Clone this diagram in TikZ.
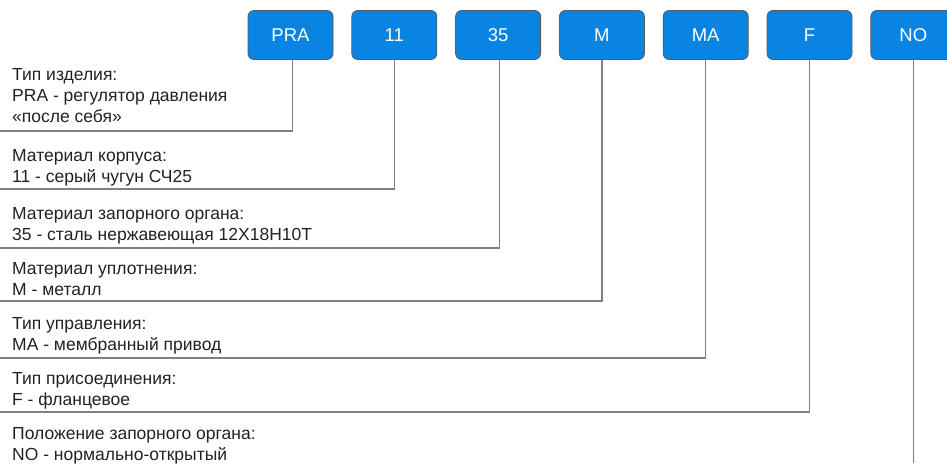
\documentclass[tikz,border=0pt]{standalone}
\usepackage{fontspec}
\setmainfont{Liberation Sans}
\usetikzlibrary{positioning}

\definecolor{codeblue}{RGB}{9,132,227}
\definecolor{framegray}{RGB}{90,90,90}
\definecolor{linegray}{RGB}{128,128,128}
\definecolor{textdark}{RGB}{34,34,34}

\begin{document}
\begin{tikzpicture}
			[x=1pt,y=-1pt,
			codebox/.style={draw=framegray,fill=codeblue,rounded corners=6pt,line width=0.8pt,
				minimum width=85pt,minimum height=49pt,text=white,font=\fontsize{18.5}{20}\selectfont},
			leader/.style={draw=linegray,line width=1.2pt},
			desc/.style={anchor=north west,inner sep=0pt,align=left,text=textdark,
				font=\fontsize{17.5}{21}\selectfont}]
			\useasboundingbox (0,0) rectangle (947,463);
			% code boxes
			\node[codebox] (pra) at (290.5,35) {PRA};
			\node[codebox,right=18pt of pra] (n11) {11};
			\node[codebox,right=18pt of n11] (n35) {35};
			\node[codebox,right=18pt of n35] (m) {M};
			\node[codebox,right=18pt of m] (ma) {MA};
			\node[codebox,right=18pt of ma] (f) {F};
			\node[codebox,right=18pt of f] (no) {NO};
			% descriptions
			\node[desc] (pra text) at (12,68) {Тип изделия:\\PRA - регулятор давления\\«после себя»};
			\node[desc] (n11 text) at (12,149) {Материал корпуса:\\11 - серый чугун СЧ25};
			\node[desc] (n35 text) at (12,207) {Материал запорного органа:\\35 - сталь нержавеющая 12Х18Н10Т};
			\node[desc] (m text) at (12,262) {Материал уплотнения:\\M - металл};
			\node[desc] (ma text) at (12,317) {Тип управления:\\MA - мембранный привод};
			\node[desc] (f text) at (12,372) {Тип присоединения:\\F - фланцевое};
			\node[desc] (no text) at (12,427) {Положение запорного органа:\\NO - нормально-открытый};
			% leader ends
			\coordinate (pra end) at (0,131);
			\coordinate (n11 end) at (0,189);
			\coordinate (n35 end) at (0,248);
			\coordinate (m end) at (0,301);
			\coordinate (ma end) at (0,358);
			\coordinate (f end) at (0,412);
			\coordinate (bottom edge) at (0,463);
			\draw[leader] ([xshift=2pt]pra.south) |- (pra end);
			\draw[leader] (n11.south) |- (n11 end);
			\draw[leader] ([xshift=1pt]n35.south) |- (n35 end);
			\draw[leader] (m.south) |- (m end);
			\draw[leader] (ma.south) |- (ma end);
			\draw[leader] (f.south) |- (f end);
			\draw[leader] (no.south) -- (no.south |- bottom edge);
		\end{tikzpicture}
\end{document}
